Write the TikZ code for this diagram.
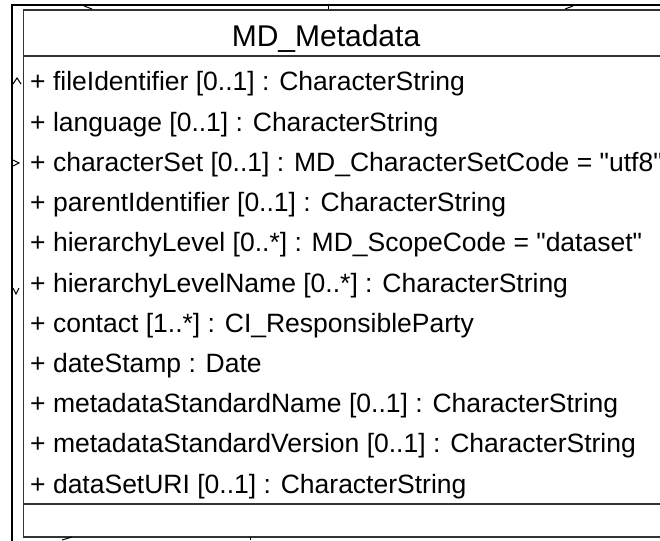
\documentclass[tikz,border=0pt]{standalone}
\usepackage{fontspec}
\setmainfont{Liberation Sans}
\newfontfamily\lsans{Liberation Sans}
\begin{document}
\begin{tikzpicture}[x=1pt,y=-1pt,
  frameline/.style={line width=2.6pt,black},
  boxline/.style={line width=1.4pt,black!80},
  attr/.style={anchor=base west,inner sep=0pt,font=\lsans\fontsize{26.5}{30}\selectfont},
  titletext/.style={anchor=base,inner sep=0pt,font=\lsans\fontsize{30}{34}\selectfont},
  frag/.style={line width=1pt,black}]
\clip (0,0) rectangle (660,540);
\fill[white] (0,0) rectangle (660,540);
% outer frame fragment
\coordinate (fTL) at (12,5);
\coordinate (fTR) at (665,5);
\coordinate (fBL) at (12,545);
\draw[frameline] (fBL) -- (fTL) -- (fTR);
% class box
\coordinate (bTL) at (23.5,10);
\coordinate (bTR) at (670,10);
\coordinate (bBL) at (23.5,537);
\coordinate (bBR) at (670,537);
\draw[boxline] (bTR) -- (bTL) -- (bBL) -- (bBR);
\coordinate (s1L) at (23.5,56);
\coordinate (s1R) at (670,56);
\coordinate (s2L) at (23.5,504);
\coordinate (s2R) at (670,504);
\draw[boxline] (s1L) -- (s1R);
\draw[boxline] (s2L) -- (s2R);
% title
\node[titletext] (title) at (326,47) {MD\_Metadata};
% attributes
\node[attr] (a1) at (30,91) {+ fileIdentifier [0..1] : CharacterString};
\node[attr] (a2) at (30,131.2) {+ language [0..1] : CharacterString};
\node[attr] (a3) at (30,171.4) {+ characterSet [0..1] : MD\_CharacterSetCode = "utf8"};
\node[attr] (a4) at (30,211.6) {+ parentIdentifier [0..1] : CharacterString};
\node[attr] (a5) at (30,251.8) {+ hierarchyLevel [0..*] : MD\_ScopeCode = "dataset"};
\node[attr] (a6) at (30,292) {+ hierarchyLevelName [0..*] : CharacterString};
\node[attr] (a7) at (30,332.2) {+ contact [1..*] : CI\_ResponsibleParty};
\node[attr] (a8) at (30,372.4) {+ dateStamp : Date};
\node[attr] (a9) at (30,412.6) {+ metadataStandardName [0..1] : CharacterString};
\node[attr] (a10) at (30,452.8) {+ metadataStandardVersion [0..1] : CharacterString};
\node[attr] (a11) at (30,493) {+ dataSetURI [0..1] : CharacterString};
% small connector fragments at the edges
\draw[frag] (13,84) -- (17,78) -- (21,84);
\draw[frag] (13,160) -- (19,163) -- (13,166);
\draw[frag] (13,288) -- (16,294) -- (19,288);
\draw[frag] (84,6) -- (92,9);
\draw[frag] (328,5) -- (328,9);
\draw[frag] (565,9) -- (573,6);
\draw[frag] (62,540) -- (72,537);
\draw[frag] (250,537) -- (250,540);
\end{tikzpicture}
\end{document}
